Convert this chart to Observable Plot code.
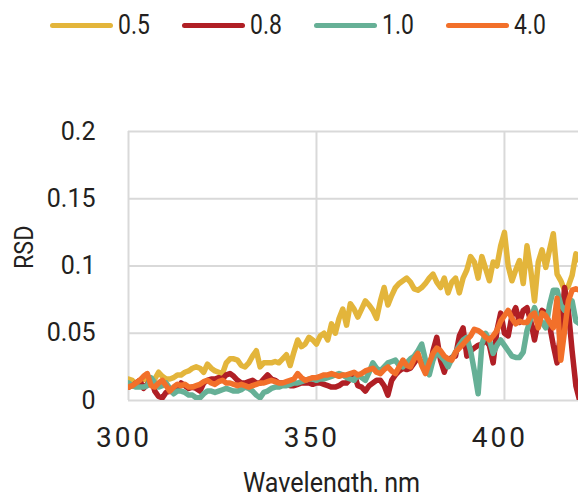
<!DOCTYPE html>
<html>
<head>
<meta charset="utf-8">
<script src="https://cdn.jsdelivr.net/npm/d3@7"></script>
<script src="https://cdn.jsdelivr.net/npm/@observablehq/plot@0.6"></script>
<style>
  html, body { margin: 0; padding: 0; background: #fff; width: 578px; height: 492px; overflow: hidden; }
  body { font-family: Roboto, "Noto Sans", sans-serif; color: #231f20; }
  #legend { position: relative; height: 50px; width: 578px; }
  .item { position: absolute; top: 0; height: 50px; display: flex; align-items: center; }
  .sw { width: 63px; height: 5px; border-radius: 3px; margin-right: 5px; flex: none; }
  .lab { font-size: 27px; line-height: 27px; display: inline-block; transform: scaleX(0.85); transform-origin: left center; }
  svg { display: block; }
</style>
</head>
<body>
<div id="legend"></div>
<div id="chart"></div>
<script>
const seriesNames = ["0.5", "0.8", "1.0", "4.0"];
const seriesColors = ["#E3B53B", "#B01F25", "#66B096", "#F2702A"];
const wavelengthStart = 300;
const wavelengthStep = 1;
const xTicks = [300, 350, 400];
const yTicks = [0, 0.05, 0.1, 0.15, 0.2];

const rsd05 = [
0.016,0.015,0.012,0.015,0.016,0.015,0.012,0.016,0.021,0.018,
0.016,0.016,0.017,0.019,0.019,0.021,0.022,0.024,0.025,0.024,
0.021,0.027,0.024,0.022,0.021,0.020,0.028,0.031,0.031,0.030,
0.026,0.025,0.028,0.033,0.037,0.025,0.028,0.028,0.028,0.029,
0.028,0.031,0.034,0.026,0.036,0.045,0.040,0.042,0.047,0.045,
0.042,0.048,0.050,0.045,0.057,0.050,0.061,0.068,0.056,0.072,
0.068,0.062,0.068,0.074,0.071,0.067,0.061,0.074,0.084,0.071,
0.078,0.084,0.087,0.089,0.091,0.088,0.083,0.082,0.084,0.087,
0.091,0.094,0.088,0.084,0.091,0.080,0.088,0.091,0.080,0.091,
0.097,0.107,0.103,0.091,0.107,0.098,0.089,0.103,0.100,0.115,
0.125,0.100,0.089,0.097,0.104,0.087,0.115,0.097,0.074,0.103,
0.112,0.099,0.112,0.124,0.094,0.089,0.082,0.085,0.093,0.109,
0.104];

const rsd08 = [
0.010,0.011,0.013,0.015,0.009,0.012,0.016,0.007,0.003,0.002,
0.006,0.007,0.006,0.009,0.013,0.011,0.009,0.010,0.009,0.007,
0.013,0.015,0.016,0.016,0.017,0.016,0.019,0.020,0.018,0.015,
0.013,0.013,0.014,0.015,0.013,0.013,0.016,0.019,0.016,0.015,
0.013,0.013,0.012,0.011,0.011,0.012,0.013,0.013,0.013,0.012,
0.013,0.013,0.012,0.011,0.010,0.010,0.011,0.013,0.013,0.016,
0.020,0.011,0.010,0.007,0.011,0.013,0.015,0.015,0.011,0.004,
0.015,0.019,0.022,0.024,0.023,0.024,0.028,0.032,0.028,0.024,
0.022,0.037,0.047,0.030,0.021,0.030,0.032,0.033,0.048,0.054,
0.033,0.037,0.039,0.041,0.042,0.045,0.041,0.028,0.052,0.065,
0.050,0.048,0.063,0.069,0.058,0.067,0.069,0.059,0.045,0.059,
0.067,0.065,0.056,0.041,0.028,0.052,0.084,0.067,0.037,0.011,
0.000];

const rsd10 = [
0.013,0.011,0.010,0.010,0.010,0.011,0.017,0.013,0.010,0.011,
0.013,0.009,0.005,0.007,0.007,0.006,0.004,0.004,0.002,0.002,
0.005,0.007,0.007,0.006,0.007,0.008,0.009,0.008,0.007,0.007,
0.008,0.010,0.009,0.007,0.004,0.002,0.006,0.007,0.009,0.010,
0.010,0.011,0.011,0.012,0.013,0.013,0.014,0.015,0.016,0.016,
0.015,0.016,0.016,0.017,0.018,0.019,0.020,0.019,0.017,0.016,
0.015,0.019,0.017,0.015,0.021,0.028,0.024,0.022,0.025,0.028,
0.029,0.030,0.026,0.025,0.028,0.031,0.033,0.037,0.042,0.030,
0.019,0.030,0.037,0.033,0.030,0.025,0.031,0.036,0.041,0.045,
0.047,0.037,0.022,0.005,0.042,0.050,0.045,0.035,0.041,0.045,
0.041,0.037,0.033,0.032,0.032,0.036,0.052,0.061,0.069,0.061,
0.058,0.054,0.071,0.082,0.082,0.071,0.067,0.071,0.074,0.059,
0.057];

const rsd40 = [
0.010,0.011,0.013,0.015,0.018,0.020,0.011,0.010,0.013,0.015,
0.011,0.007,0.010,0.012,0.011,0.012,0.010,0.010,0.011,0.012,
0.014,0.015,0.013,0.012,0.014,0.015,0.013,0.013,0.012,0.011,
0.012,0.011,0.010,0.011,0.012,0.013,0.013,0.014,0.015,0.014,
0.013,0.013,0.014,0.015,0.016,0.020,0.017,0.015,0.016,0.017,
0.017,0.018,0.019,0.019,0.020,0.019,0.018,0.019,0.019,0.020,
0.021,0.019,0.020,0.022,0.023,0.024,0.021,0.020,0.023,0.025,
0.022,0.020,0.025,0.030,0.026,0.025,0.031,0.035,0.026,0.020,
0.028,0.035,0.039,0.037,0.033,0.031,0.030,0.036,0.039,0.042,
0.045,0.048,0.053,0.052,0.050,0.047,0.045,0.048,0.052,0.059,
0.063,0.067,0.061,0.057,0.059,0.058,0.058,0.063,0.065,0.054,
0.065,0.063,0.058,0.054,0.076,0.030,0.052,0.074,0.082,0.083,
0.082];

const seriesValues = [rsd05, rsd08, rsd10, rsd40];

const data = seriesNames.flatMap((name, s) =>
  seriesValues[s].map((v, i) => ({ wl: wavelengthStart + i * wavelengthStep, rsd: v, series: name }))
);

// legend
const legend = document.getElementById("legend");
seriesNames.forEach((name, i) => {
  const it = document.createElement("div");
  it.className = "item";
  it.style.left = (50 + i * 132) + "px";
  it.innerHTML = `<span class="sw" style="background:${seriesColors[i]}"></span><span class="lab">${name}</span>`;
  legend.appendChild(it);
});

const font = 'Roboto, "Noto Sans", sans-serif';
const chart = Plot.plot({
  width: 578,
  height: 442,
  marginLeft: 128,
  marginRight: 0,
  marginTop: 81,
  marginBottom: 92,
  x: { domain: [300, 419.7], label: null },
  y: { domain: [0, 0.2], label: null },
  color: { domain: seriesNames, range: seriesColors },
  style: { fontFamily: font, fontSize: "25px", color: "#231f20", background: "#fff", overflow: "visible" },
  marks: [
    Plot.gridX(xTicks, { stroke: "#d9d9d9", strokeOpacity: 1, strokeWidth: 2 }),
    Plot.gridY(yTicks, { stroke: "#d9d9d9", strokeOpacity: 1, strokeWidth: 2 }),
    Plot.lineY(data, { x: "wl", y: "rsd", stroke: "series", z: "series", strokeWidth: 5.5, strokeLinejoin: "round", strokeLinecap: "round", clip: true }),
    Plot.axisX(xTicks, { tickSize: 0, tickPadding: 27, tickFormat: d => String(d), fontSize: 28, dx: -4.5 }),
    Plot.axisY(yTicks, { tickSize: 0, tickPadding: 33, tickFormat: d => String(d), fontSize: 25 }),
    Plot.text(["RSD"], { frameAnchor: "left", dx: -104, dy: 3, rotate: -90, fontSize: 25, fill: "#231f20" }),
    Plot.text(["Wavelength, nm"], { x: [350], frameAnchor: "bottom", dx: 15, dy: 91, fontSize: 27, fill: "#231f20" })
  ]
});
document.getElementById("chart").appendChild(chart);

function condense(sel, f) {
  d3.select(chart).selectAll(sel).each(function () {
    const len = this.getComputedTextLength();
    this.setAttribute("textLength", (len * f).toFixed(1));
    this.setAttribute("lengthAdjust", "spacingAndGlyphs");
  });
}
d3.select(chart).selectAll('g[aria-label="x-axis tick label"] text').style("letter-spacing", "3px");
condense('g[aria-label="text"] text', 0.93);
</script>
</body>
</html>
